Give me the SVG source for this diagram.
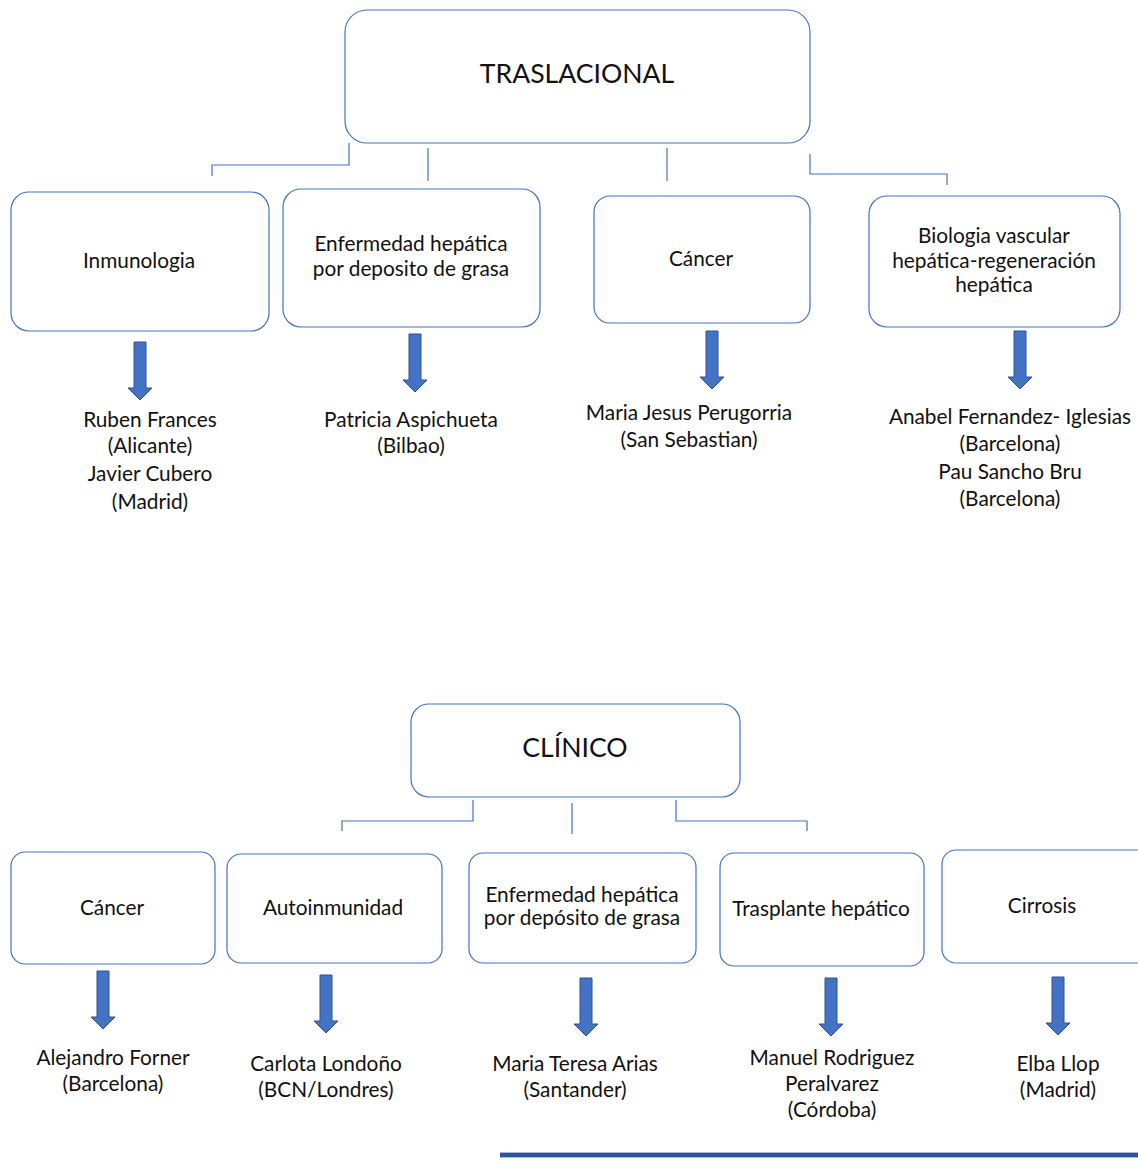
<svg xmlns="http://www.w3.org/2000/svg" width="1138" height="1167" viewBox="0 0 1138 1167">
<style>
.box{fill:#fff;stroke:#4472C4;stroke-width:1.2}
.con{fill:none;stroke:#4472C4;stroke-width:1.2}
.arr{fill:#4472C4;stroke:#2F528F;stroke-width:1}
text{font-family:Lato,"Liberation Sans",sans-serif;font-size:20.8px;fill:#111;text-anchor:middle}
.big{font-size:26.6px}
</style>
<defs>
<path id="arrow" d="M-6,0 H6 V46 H12 L0,58 L-12,46 H-6 Z"/>
</defs>
<rect width="1138" height="1167" fill="#fff"/>
<g id="connectors">
<path class="con" d="M349,143 V165 H212 V176"/>
<path class="con" d="M428,148 V181"/>
<path class="con" d="M667,148 V181"/>
<path class="con" d="M810,154 V174 H947 V185"/>
<path class="con" d="M473,800 V821 H342 V831"/>
<path class="con" d="M572,803 V834"/>
<path class="con" d="M676,800 V821 H807 V831"/>
<use href="#arrow" class="arr" x="140" y="342"/>
<use href="#arrow" class="arr" x="415" y="334"/>
<use href="#arrow" class="arr" x="712" y="331"/>
<use href="#arrow" class="arr" x="1020" y="331"/>
<use href="#arrow" class="arr" x="103" y="971"/>
<use href="#arrow" class="arr" x="326" y="975"/>
<use href="#arrow" class="arr" x="586" y="978"/>
<use href="#arrow" class="arr" x="831" y="978"/>
<use href="#arrow" class="arr" x="1058" y="977"/>
</g>
<g id="traslacional"><rect class="box" x="345" y="10" width="465" height="133" rx="22"/><text class="big" x="577" y="83">TRASLACIONAL</text></g>
<g id="inmunologia"><rect class="box" x="11" y="192" width="258" height="139" rx="18"/><text x="139" y="268">Inmunologia</text></g>
<g id="enfermedad1"><rect class="box" x="283" y="189" width="257" height="138" rx="18"/><text x="411" y="251">Enfermedad hepática</text><text x="411" y="276">por deposito de grasa</text></g>
<g id="cancer1"><rect class="box" x="594" y="196" width="216" height="127" rx="16"/><text x="701" y="266">Cáncer</text></g>
<g id="biologia"><rect class="box" x="869" y="196" width="251" height="131" rx="18"/><text x="994" y="243">Biologia vascular</text><text x="994" y="268">hepática-regeneración</text><text x="994" y="292">hepática</text></g>
<g id="t-inmunologia"><text x="150" y="427">Ruben Frances</text><text x="150" y="453">(Alicante)</text><text x="150" y="481">Javier Cubero</text><text x="150" y="509">(Madrid)</text></g>
<g id="t-enfermedad1"><text x="411" y="427">Patricia Aspichueta</text><text x="411" y="453">(Bilbao)</text></g>
<g id="t-cancer1"><text x="689" y="420">Maria Jesus Perugorria</text><text x="689" y="447">(San Sebastian)</text></g>
<g id="t-biologia"><text x="1010" y="424">Anabel Fernandez- Iglesias</text><text x="1010" y="451">(Barcelona)</text><text x="1010" y="479">Pau Sancho Bru</text><text x="1010" y="506">(Barcelona)</text></g>
<g id="clinico"><rect class="box" x="411" y="704" width="329" height="93" rx="18"/><text class="big" x="575" y="757">CLÍNICO</text></g>
<g id="cancer2"><rect class="box" x="11" y="852" width="204" height="112" rx="14"/><text x="112" y="915">Cáncer</text></g>
<g id="autoinmunidad"><rect class="box" x="227" y="854" width="215" height="109" rx="14"/><text x="333" y="915">Autoinmunidad</text></g>
<g id="enfermedad2"><rect class="box" x="469" y="853" width="227" height="110" rx="14"/><text x="582" y="902">Enfermedad hepática</text><text x="582" y="925">por depósito de grasa</text></g>
<g id="trasplante"><rect class="box" x="720" y="853" width="204" height="113" rx="14"/><text x="821" y="916">Trasplante hepático</text></g>
<g id="cirrosis"><rect class="box" x="942" y="850" width="210" height="113" rx="14"/><text x="1042" y="913">Cirrosis</text></g>
<g id="t-cancer2"><text x="113" y="1065">Alejandro Forner</text><text x="113" y="1091">(Barcelona)</text></g>
<g id="t-autoinmunidad"><text x="326" y="1071">Carlota Londoño</text><text x="326" y="1097">(BCN/Londres)</text></g>
<g id="t-enfermedad2"><text x="575" y="1071">Maria Teresa Arias</text><text x="575" y="1097">(Santander)</text></g>
<g id="t-trasplante"><text x="832" y="1065">Manuel Rodriguez</text><text x="832" y="1091">Peralvarez</text><text x="832" y="1117">(Córdoba)</text></g>
<g id="t-cirrosis"><text x="1058" y="1071">Elba Llop</text><text x="1058" y="1097">(Madrid)</text></g>
<g id="rule"><rect x="500" y="1152" width="638" height="6" fill="#A9BCE0"/><rect x="500" y="1153" width="638" height="4" fill="#2F5597"/></g>
</svg>
